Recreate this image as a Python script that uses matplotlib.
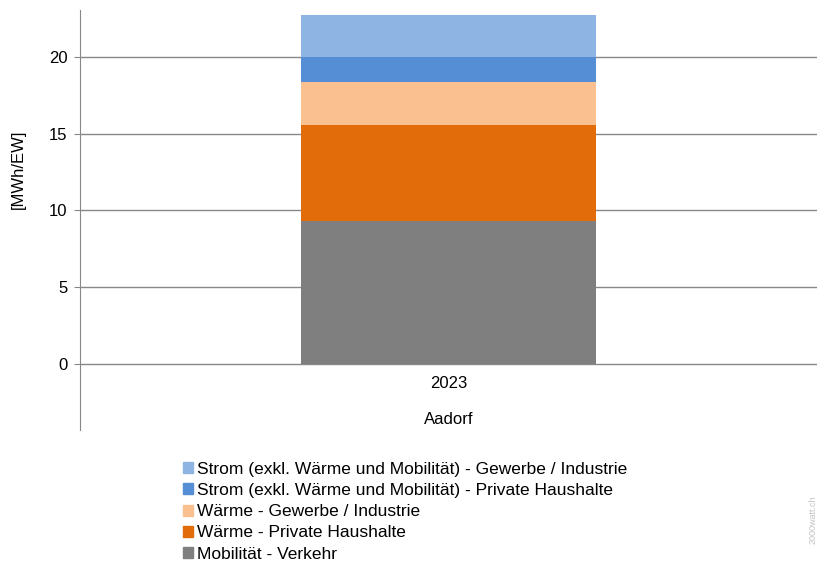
import numpy as np
import matplotlib.pyplot as plt
from matplotlib.patches import Patch
from matplotlib.transforms import blended_transform_factory

plt.rcParams['font.family'] = ['Liberation Sans', 'DejaVu Sans']

# data (MWh per Einwohner)
year = '2023'
place = 'Aadorf'
labels = [
    'Mobilität - Verkehr',
    'Wärme - Private Haushalte',
    'Wärme - Gewerbe / Industrie',
    'Strom (exkl. Wärme und Mobilität) - Private Haushalte',
    'Strom (exkl. Wärme und Mobilität) - Gewerbe / Industrie',
]
values = [9.32, 6.23, 2.80, 1.62, 2.77]
colors = ['#7f7f7f', '#e36c0a', '#fac090', '#558ed5', '#8eb4e3']

fig = plt.figure(figsize=(8.17, 5.63), dpi=100)
ax = fig.add_axes([80 / 817, 1 - 430 / 563, 737 / 817, 420 / 563])

bottom = 0
for v, c, lab in zip(values, colors, labels):
    ax.bar(0, v, bottom=bottom, width=0.8, color=c, label=lab, zorder=3)
    bottom += v

ax.set_xlim(-1, 1)
ax.set_ylim(-4.3, 23.06)
ax.set_yticks([0, 5, 10, 15, 20])
ax.tick_params(axis='y', labelsize=12, length=4, color='#888888', pad=5)
ax.set_xticks([])
ax.grid(axis='y', color='#888888', lw=1, zorder=0)
for s in ['top', 'right', 'bottom']:
    ax.spines[s].set_visible(False)
ax.spines['left'].set_color('#888888')
ax.set_ylabel('[MWh/EW]', fontsize=12)
ax.yaxis.set_label_coords(-0.073, 0.62)

# category labels under the bar
tr = blended_transform_factory(ax.transData, ax.transAxes)
ax.text(0, (430 - 383) / 420, year, transform=tr, ha='center', va='center', fontsize=12)
ax.text(0, (430 - 419) / 420, place, transform=tr, ha='center', va='center', fontsize=12)

handles = [Patch(color=c) for c in colors][::-1]
fig.legend(handles, labels[::-1], loc='upper left', bbox_to_anchor=(174 / 817, 1 - 453 / 563),
           frameon=False, fontsize=12.5, handlelength=0.6, handleheight=0.6,
           handletextpad=0.25, labelspacing=0.36, borderpad=0)

fig.text(813 / 817, 1 - 520 / 563, '2000watt.ch', rotation=90, fontsize=6.5,
         color='#c4c4c4', ha='center', va='center')

fig.savefig('out.png', dpi=100)
